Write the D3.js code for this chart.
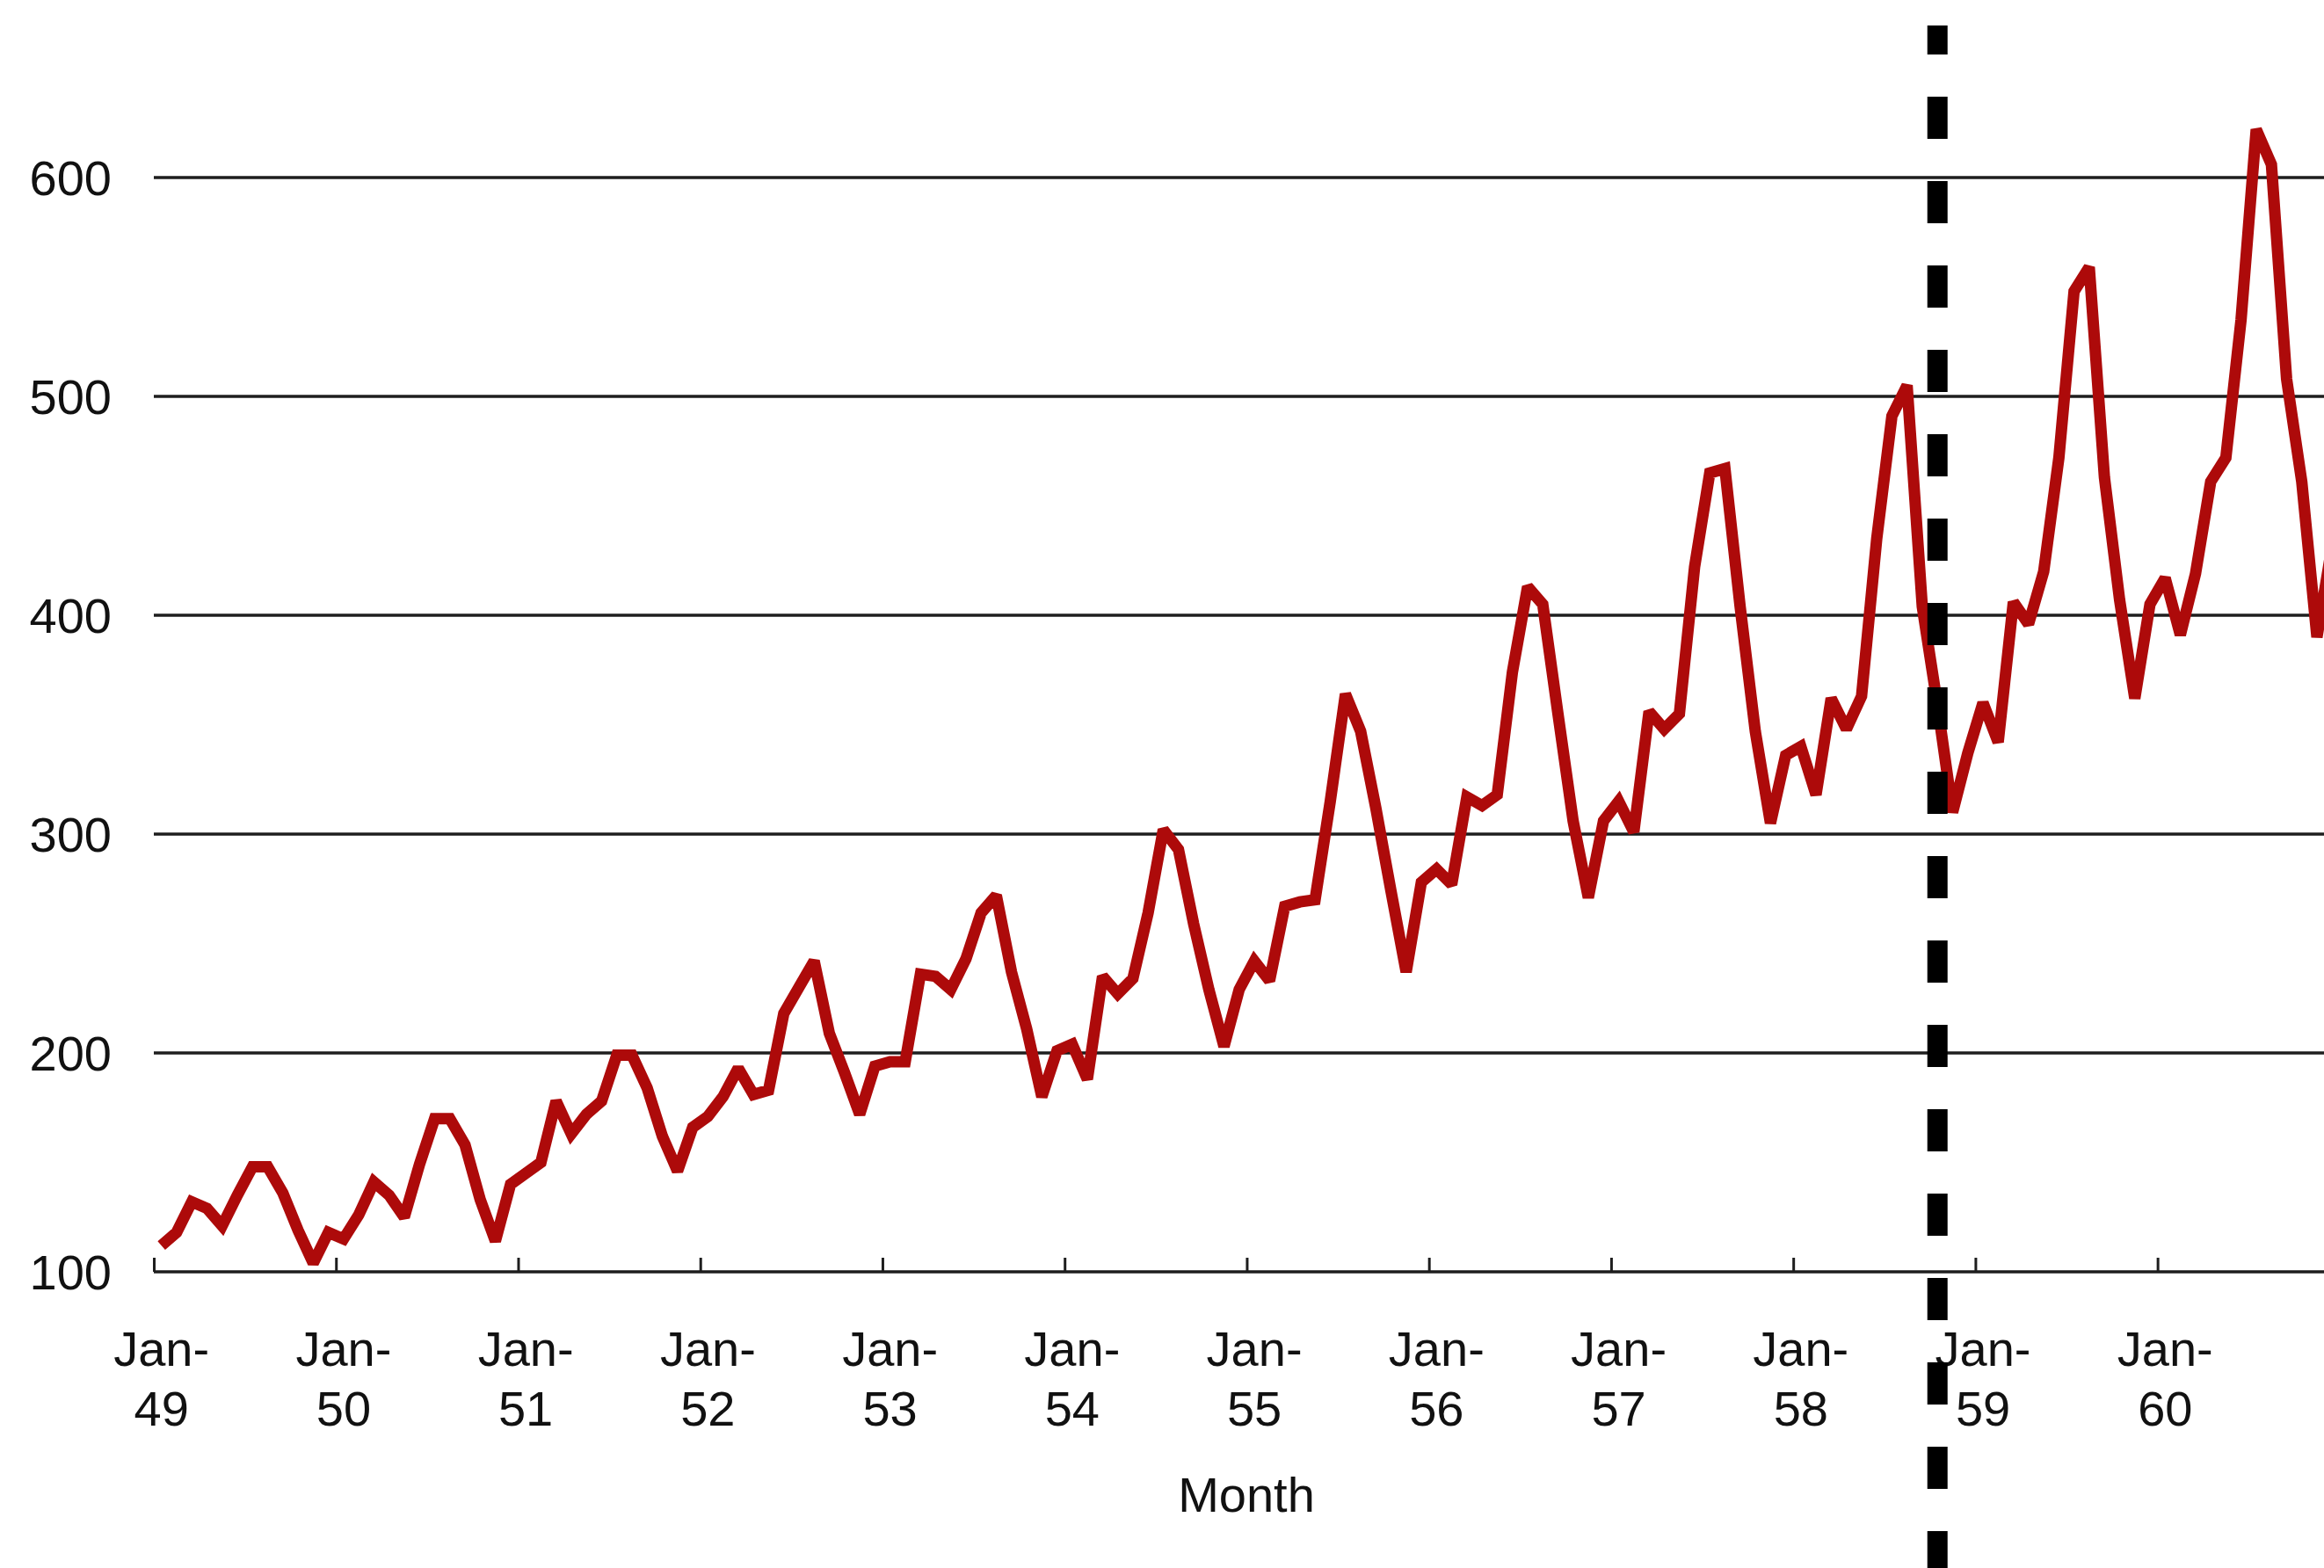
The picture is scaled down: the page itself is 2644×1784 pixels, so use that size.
<!DOCTYPE html>
<html>
<head>
<meta charset="utf-8">
<script src="https://cdn.jsdelivr.net/npm/d3@7"></script>
<style>
  body { margin: 0; background: #ffffff; }
  text { font-family: "Liberation Sans", Arial, sans-serif; fill: #111; }
</style>
</head>
<body>
<div id="chart"></div>
<script>
//
// Monthly passengers, Jan-49 .. Dec-60
//

var years = ["49", "50", "51", "52", "53", "54", "55", "56", "57", "58", "59", "60"];
var months = ["Jan", "Feb", "Mar", "Apr", "May", "Jun", "Jul", "Aug", "Sep", "Oct", "Nov", "Dec"];

var v1949 = [112, 118, 132, 129, 121, 135, 148, 148, 136, 119, 104, 118];
var v1950 = [115, 126, 141, 135, 125, 149, 170, 170, 158, 133, 114, 140];
var v1951 = [145, 150, 178, 163, 172, 178, 199, 199, 184, 162, 146, 166];
var v1952 = [171, 180, 193, 181, 183, 218, 230, 242, 209, 191, 172, 194];
var v1953 = [196, 196, 236, 235, 229, 243, 264, 272, 237, 211, 180, 201];
var v1954 = [204, 188, 235, 227, 234, 264, 302, 293, 259, 229, 203, 229];
var v1955 = [242, 233, 267, 269, 270, 315, 364, 347, 312, 274, 237, 278];
var v1956 = [284, 277, 317, 313, 318, 374, 413, 405, 355, 306, 271, 306];
var v1957 = [315, 301, 356, 348, 355, 422, 465, 467, 404, 347, 305, 336];
var v1958 = [340, 318, 362, 348, 363, 435, 491, 505, 404, 359, 310, 337];
var v1959 = [360, 342, 406, 396, 420, 472, 548, 559, 463, 407, 362, 405];
var v1960 = [417, 391, 419, 461, 472, 535, 622, 606, 508, 461, 390, 432];

var yTicks = [100, 200, 300, 400, 500, 600];

// the dashed marker stands at Oct-58
var splitYear = "58", splitMonth = "Oct";

var allYears = [v1949, v1950, v1951, v1952, v1953, v1954, v1955, v1956, v1957, v1958, v1959, v1960];
var series = [];
allYears.forEach(function(vals, yi) {
	vals.forEach(function(v, mi) {
		series.push({ i: yi * 12 + mi, label: months[mi] + "-" + years[yi], value: v });
	});
});

var total_width = 2644, total_height = 1784;
var left = 175, catWidth = 17.27;

var svg = d3.select("#chart").append("svg")
		.attr("width", total_width)
		.attr("height", total_height);

svg.append("rect")
		.attr("width", total_width)
		.attr("height", total_height)
		.attr("fill", "#ffffff");

// categories sit between tick marks
var x = d3.scaleLinear()
	.domain([0, series.length])
	.range([left, left + series.length * catWidth]);

var y = d3.scaleLinear()
	.domain([100, 600])
	.range([1447, 202]);

// gridlines
svg.append("g")
	.selectAll("line")
	.data(yTicks)
	.enter()
	.append("line")
		.attr("x1", left)
		.attr("x2", x(series.length))
		.attr("y1", d => y(d))
		.attr("y2", d => y(d))
		.attr("stroke", "#1e1e1e")
		.attr("stroke-width", 3.5);

// y labels
svg.append("g")
	.selectAll("text")
	.data(yTicks)
	.enter()
	.append("text")
		.attr("x", 127)
		.attr("y", d => y(d))
		.attr("dy", "0.36em")
		.attr("text-anchor", "end")
		.attr("font-size", 56)
		.text(d => d);

// x tick marks (pointing up) at year boundaries
var yearStarts = years.map((d, k) => k * 12);
var xAxis = svg.append("g")
		.attr("transform", "translate(0," + y(100) + ")")
		.call(d3.axisBottom(x).tickValues(yearStarts).tickSize(-16).tickFormat(""));
xAxis.select(".domain").remove();
xAxis.selectAll(".tick line").attr("stroke", "#1e1e1e").attr("stroke-width", 3);

// x labels, two lines each, centred on the January point
var xLabels = svg.append("g")
	.selectAll("text")
	.data(years)
	.enter()
	.append("text")
		.attr("text-anchor", "middle")
		.attr("font-size", 56)
		.attr("transform", (d, k) => "translate(" + x(k * 12 + 0.5) + ",1554)");
xLabels.append("tspan").attr("x", 0).attr("y", 0).text("Jan-");
xLabels.append("tspan").attr("x", 0).attr("y", 68).text(d => d);

svg.append("text")
		.attr("x", 1418)
		.attr("y", 1720)
		.attr("text-anchor", "middle")
		.attr("font-size", 56)
		.text("Month");

// the series
svg.append("path")
		.datum(series)
		.attr("fill", "none")
		.attr("stroke", "#ad0a0a")
		.attr("stroke-width", 13)
		.attr("stroke-linejoin", "miter")
		.attr("stroke-miterlimit", 2)
		.attr("d", d3.line()
			.x(d => x(d.i + 0.5))
			.y(d => y(d.value))
		);

// dashed marker
var split = series.find(d => d.label == splitMonth + "-" + splitYear);
svg.append("line")
		.attr("x1", x(split.i + 0.5))
		.attr("x2", x(split.i + 0.5))
		.attr("y1", 29)
		.attr("y2", total_height)
		.attr("stroke", "#000000")
		.attr("stroke-width", 23)
		.attr("stroke-dasharray", "48,48")
		.attr("stroke-dashoffset", 15);
</script>
</body>
</html>
